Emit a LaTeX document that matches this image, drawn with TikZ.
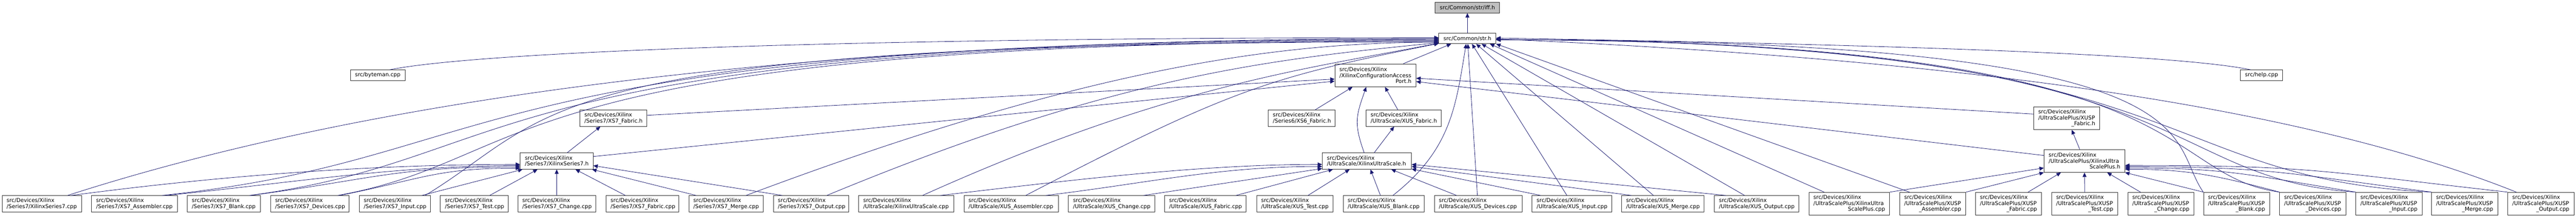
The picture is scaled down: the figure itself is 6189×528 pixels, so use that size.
\documentclass[tikz,border=0pt]{standalone}
\usepackage{fontspec}
\newfontfamily\dotfont{DejaVu Sans}
\usetikzlibrary{arrows.meta, calc}

\definecolor{edgeblue}{HTML}{191970}
\definecolor{rootgray}{HTML}{BFBFBF}
\newcommand\lastline[1]{\hspace*{\fill}#1\hspace*{\fill}}

\tikzset{
  filebox/.style={draw=black!80, fill=white, line width=0.75pt, inner xsep=8.25pt, inner ysep=0pt,
    font=\dotfont\fontsize{9.75}{10.8}\selectfont, align=left,
    execute at begin node={\hyphenpenalty=10000\exhyphenpenalty=10000}},
  wd/.code={\pgfmathsetlengthmacro\filew{#1*0.75pt}\pgfmathsetlengthmacro\filet{(#1-22)*0.75pt}%
    \tikzset{minimum width=\filew, text width=\filet}},
  oneline/.style={minimum height=18.75pt, align=center},
  h2/.style={minimum height=29.25pt},
  h3/.style={minimum height=41.25pt},
  dep/.style={draw=edgeblue, line width=0.75pt, -{Triangle[length=8pt,width=7pt]}},
}

\begin{document}
\begin{tikzpicture}[x=0.75pt, y=0.75pt]
  \useasboundingbox[fill=white] (0,0) rectangle (6189,528);

  \node[filebox, oneline, fill=rootgray, minimum width=116.25pt] (iffh) at (3525.5,509.5) {src/Common/str/iff.h};
  \node[filebox, oneline, minimum width=102.75pt] (strh) at (3525.5,435.5) {src/Common/str.h};
  \node[filebox, oneline, minimum width=98.25pt] (byteman) at (907.5,347.5) {src/byteman.cpp};
  \node[filebox, oneline, minimum width=75.75pt] (helpcpp) at (5433.5,347.5) {src/help.cpp};
  \node[filebox, h3, wd=195] (xcap) at (3304.5,347) {src/Devices/Xilinx\\/XilinxConfigurationAccess\\\lastline{Port.h}};

  \node[filebox, h2, wd=161] (s7fabh) at (1473.5,244) {src/Devices/Xilinx\\/Series7/XS7\_Fabric.h};
  \node[filebox, h2, wd=160] (s6fabh) at (3127,244) {src/Devices/Xilinx\\/Series6/XS6\_Fabric.h};
  \node[filebox, h2, wd=181] (usfabh) at (3372.5,244) {src/Devices/Xilinx\\/UltraScale/XUS\_Fabric.h};
  \node[filebox, h3, wd=159] (uspfabh) at (4965.5,244) {src/Devices/Xilinx\\/UltraScalePlus/XUSP\\\lastline{\_Fabric.h}};
  \node[filebox, h2, wd=175] (s7h) at (1337.5,141) {src/Devices/Xilinx\\/Series7/XilinxSeries7.h};
  \node[filebox, h2, wd=214] (ush) at (3284,141) {src/Devices/Xilinx\\/UltraScale/XilinxUltraScale.h};
  \node[filebox, h3, wd=194] (usph) at (5008,141.5) {src/Devices/Xilinx\\/UltraScalePlus/XilinxUltra\\\lastline{ScalePlus.h}};

  \node[filebox, h2, wd=191] (s7cpp) at (100.5,38.5) {src/Devices/Xilinx\\/Series7/XilinxSeries7.cpp};
  \node[filebox, h2, wd=206] (s7asm) at (323,38.5) {src/Devices/Xilinx\\/Series7/XS7\_Assembler.cpp};
  \node[filebox, h2, wd=175] (s7blank) at (537.5,38.5) {src/Devices/Xilinx\\/Series7/XS7\_Blank.cpp};
  \node[filebox, h2, wd=189] (s7dev) at (744.5,38.5) {src/Devices/Xilinx\\/Series7/XS7\_Devices.cpp};
  \node[filebox, h2, wd=171] (s7in) at (948.5,38.5) {src/Devices/Xilinx\\/Series7/XS7\_Input.cpp};
  \node[filebox, h2, wd=163] (s7test) at (1139.5,38.5) {src/Devices/Xilinx\\/Series7/XS7\_Test.cpp};
  \node[filebox, h2, wd=187] (s7chg) at (1337.5,38.5) {src/Devices/Xilinx\\/Series7/XS7\_Change.cpp};
  \node[filebox, h2, wd=175] (s7fab) at (1543.5,38.5) {src/Devices/Xilinx\\/Series7/XS7\_Fabric.cpp};
  \node[filebox, h2, wd=179] (s7merge) at (1744.5,38.5) {src/Devices/Xilinx\\/Series7/XS7\_Merge.cpp};
  \node[filebox, h2, wd=181] (s7out) at (1948.5,38.5) {src/Devices/Xilinx\\/Series7/XS7\_Output.cpp};
  \node[filebox, h2, wd=229] (uscpp) at (2177.5,38.5) {src/Devices/Xilinx\\/UltraScale/XilinxUltraScale.cpp};
  \node[filebox, h2, wd=227] (usasm) at (2429.5,38.5) {src/Devices/Xilinx\\/UltraScale/XUS\_Assembler.cpp};
  \node[filebox, h2, wd=207] (uschg) at (2670.5,38.5) {src/Devices/Xilinx\\/UltraScale/XUS\_Change.cpp};
  \node[filebox, h2, wd=196] (usfab) at (2896,38.5) {src/Devices/Xilinx\\/UltraScale/XUS\_Fabric.cpp};
  \node[filebox, h2, wd=184] (ustest) at (3111,38.5) {src/Devices/Xilinx\\/UltraScale/XUS\_Test.cpp};
  \node[filebox, h2, wd=195] (usblank) at (3324.5,38.5) {src/Devices/Xilinx\\/UltraScale/XUS\_Blank.cpp};
  \node[filebox, h2, wd=211] (usdev) at (3551.5,38.5) {src/Devices/Xilinx\\/UltraScale/XUS\_Devices.cpp};
  \node[filebox, h2, wd=191] (usin) at (3776.5,38.5) {src/Devices/Xilinx\\/UltraScale/XUS\_Input.cpp};
  \node[filebox, h2, wd=198] (usmerge) at (3995,38.5) {src/Devices/Xilinx\\/UltraScale/XUS\_Merge.cpp};
  \node[filebox, h2, wd=203] (usout) at (4220.5,38.5) {src/Devices/Xilinx\\/UltraScale/XUS\_Output.cpp};
  \node[filebox, h3, wd=194] (uspcpp) at (4443,38.5) {src/Devices/Xilinx\\/UltraScalePlus/XilinxUltra\\\lastline{ScalePlus.cpp}};
  \node[filebox, h3, wd=159] (uspasm) at (4643.5,38.5) {src/Devices/Xilinx\\/UltraScalePlus/XUSP\\\lastline{\_Assembler.cpp}};
  \node[filebox, h3, wd=159] (uspfab) at (4825.5,38.5) {src/Devices/Xilinx\\/UltraScalePlus/XUSP\\\lastline{\_Fabric.cpp}};
  \node[filebox, h3, wd=159] (usptest) at (5008.5,38.5) {src/Devices/Xilinx\\/UltraScalePlus/XUSP\\\lastline{\_Test.cpp}};
  \node[filebox, h3, wd=159] (uspchg) at (5191.5,38.5) {src/Devices/Xilinx\\/UltraScalePlus/XUSP\\\lastline{\_Change.cpp}};
  \node[filebox, h3, wd=159] (uspblank) at (5373.5,38.5) {src/Devices/Xilinx\\/UltraScalePlus/XUSP\\\lastline{\_Blank.cpp}};
  \node[filebox, h3, wd=159] (uspdev) at (5556.5,38.5) {src/Devices/Xilinx\\/UltraScalePlus/XUSP\\\lastline{\_Devices.cpp}};
  \node[filebox, h3, wd=159] (uspin) at (5739.5,38.5) {src/Devices/Xilinx\\/UltraScalePlus/XUSP\\\lastline{\_Input.cpp}};
  \node[filebox, h3, wd=159] (uspmerge) at (5921.5,38.5) {src/Devices/Xilinx\\/UltraScalePlus/XUSP\\\lastline{\_Merge.cpp}};
  \node[filebox, h3, wd=159] (uspout) at (6104.5,38.5) {src/Devices/Xilinx\\/UltraScalePlus/XUSP\\\lastline{\_Output.cpp}};

  \draw[dep] (strh) -- (iffh);
  \draw[dep] ($(byteman.north west)+(95,0)$) .. controls +(200,40) and +(-1500,0) .. ($(strh.south west)+(0,15)$);
  \draw[dep] ($(helpcpp.north west)+(25,0)$) .. controls +(-150,30) and +(1200,-20) .. ($(strh.south east)+(0,14)$);

  % Series7
  \draw[dep] ($(s7cpp.north west)+(158,0)$) .. controls +(900,290) and +(-1200,0) .. ($(strh.south west)+(0,13)$);
  \draw[dep] ($(s7asm.north west)+(170,0)$) .. controls +(860,90) and +(-2400,0) .. ($(strh.south west)+(0,11)$);
  \draw[dep] ($(s7blank.north west)+(150,0)$) .. controls +(680,90) and +(-2350,0) .. ($(strh.south west)+(0,9)$);
  \draw[dep] ($(s7dev.north west)+(162,0)$) .. controls +(500,90) and +(-2300,0) .. ($(strh.south west)+(0,7)$);
  \draw[dep] ($(s7in.north west)+(159,0)$) .. controls +(330,200) and +(-2200,0) .. ($(strh.south west)+(0,5)$);
  \draw[dep] ($(s7merge.north west)+(138,0)$) .. controls +(800,300) and +(-400,0) .. ($(strh.south west)+(0,4)$);
  \draw[dep] ($(s7out.north west)+(129,0)$) .. controls +(700,290) and +(-400,-40) .. ($(strh.south west)+(0,3)$);
  \draw[dep] ($(s7cpp.north west)+(167,0)$) .. controls +(300,40) and +(-400,0) .. ($(s7h.south west)+(0,12)$);
  \draw[dep] ($(s7asm.north west)+(180,0)$) .. controls +(300,30) and +(-300,0) .. ($(s7h.south west)+(0,9)$);
  \draw[dep] ($(s7blank.north west)+(153,0)$) .. controls +(300,40) and +(-300,0) .. ($(s7h.south west)+(0,6)$);
  \draw[dep] ($(s7dev.north west)+(167,0)$) .. controls +(200,40) and +(-200,0) .. ($(s7h.south west)+(0,3)$);
  \draw[dep] ($(s7in.north west)+(151,0)$) -- ($(s7h.south west)+(6,0)$);
  \draw[dep] ($(s7test.north west)+(119,0)$) -- ($(s7h.south west)+(42,0)$);
  \draw[dep] (s7chg) -- (s7h);
  \draw[dep] ($(s7fab.north west)+(47,0)$) -- ($(s7h.south west)+(133,0)$);
  \draw[dep] ($(s7merge.north west)+(18,0)$) -- ($(s7h.south east)+(-3,0)$);
  \draw[dep] ($(s7out.north west)+(22,0)$) -- ($(s7h.south east)+(0,9)$);
  \draw[dep] ($(s7h.north west)+(113,0)$) -- ($(s7fabh.south west)+(50,0)$);
  \draw[dep] ($(s7fabh.south east)+(0,27)$) -- ($(xcap.south west)+(0,19)$);
  \draw[dep] ($(s7h.south east)+(0,31)$) -- ($(xcap.south west)+(0,14)$);

  % UltraScale
  \draw[dep] ($(uscpp.north west)+(154,0)$) .. controls +(600,270) and +(-300,-60) .. ($(strh.south west)+(0,2)$);
  \draw[dep] ($(uscpp.north west)+(197,0)$) .. controls +(300,35) and +(-300,0) .. ($(ush.south west)+(0,12)$);
  \draw[dep] ($(usasm.north west)+(149,0)$) .. controls +(500,260) and +(-400,-80) .. ($(strh.south west)+(0,1)$);
  \draw[dep] ($(usasm.north west)+(197,0)$) .. controls +(250,30) and +(-250,0) .. ($(ush.south west)+(0,7)$);
  \draw[dep] ($(uschg.north west)+(181,0)$) -- ($(ush.south west)+(0,2)$);
  \draw[dep] ($(usfab.north west)+(172,0)$) -- ($(ush.south west)+(26,0)$);
  \draw[dep] ($(ustest.north west)+(124,0)$) -- ($(ush.south west)+(66,0)$);
  \draw[dep] ($(usblank.north west)+(90,0)$) -- ($(ush.south west)+(116,0)$);
  \draw[dep] ($(usblank.north west)+(120,0)$) .. controls +(140,110) and +(-25,-150) .. ($(strh.south west)+(66,0)$);
  \draw[dep] ($(usdev.north west)+(54,0)$) -- ($(ush.south west)+(166,0)$);
  \draw[dep] ($(usdev.north west)+(104,0)$) -- ($(strh.south west)+(70,0)$);
  \draw[dep] ($(usin.north west)+(21,0)$) -- ($(ush.south east)+(0,1)$);
  \draw[dep] ($(usin.north west)+(84,0)$) -- ($(strh.south west)+(80,0)$);
  \draw[dep] ($(usmerge.north west)+(24,0)$) -- ($(ush.south east)+(0,7)$);
  \draw[dep] ($(usmerge.north west)+(77,0)$) -- ($(strh.south west)+(90,0)$);
  \draw[dep] ($(usout.north west)+(28,0)$) -- ($(ush.south east)+(0,12)$);
  \draw[dep] ($(usout.north west)+(73,0)$) -- ($(strh.south west)+(103,0)$);
  \draw[dep] ($(ush.north west)+(101,0)$) .. controls +(-25,70) and +(-25,-70) .. ($(xcap.south west)+(76,0)$);
  \draw[dep] ($(ush.north west)+(125,0)$) -- ($(usfabh.south west)+(68,0)$);
  \draw[dep] ($(s6fabh.north west)+(113,0)$) -- ($(xcap.south west)+(43,0)$);
  \draw[dep] ($(usfabh.north west)+(77,0)$) -- ($(xcap.south west)+(121,0)$);
  \draw[dep] ($(xcap.north west)+(165,0)$) -- ($(strh.south west)+(30,0)$);

  % UltraScalePlus
  \draw[dep] ($(uspcpp.north west)+(37,0)$) -- ($(strh.south west)+(123,0)$);
  \draw[dep] (uspcpp.north east) -- ($(usph.south west)+(0,11)$);
  \draw[dep] ($(uspasm.north west)+(24,0)$) -- (strh.south east);
  \draw[dep] (uspasm.north east) -- (usph.south west);
  \draw[dep] ($(uspfab.north west)+(127,0)$) -- ($(usph.south west)+(41,0)$);
  \draw[dep] (usptest) -- (usph);
  \draw[dep] ($(uspchg.north west)+(31,0)$) -- ($(usph.south west)+(152,0)$);
  \draw[dep] (uspblank.north west) -- (usph.south east);
  \draw[dep] (uspblank.north west) .. controls +(-94,134) and +(1756,0) .. ($(strh.south east)+(0,10)$);
  \draw[dep] (uspdev.north west) .. controls +(-150,40) and +(150,0) .. ($(usph.south east)+(0,8)$);
  \draw[dep] (uspdev.north west) .. controls +(-307,44) and +(1726,0) .. ($(strh.south east)+(0,10)$);
  \draw[dep] (uspin.north west) .. controls +(-250,40) and +(250,0) .. ($(usph.south east)+(0,11)$);
  \draw[dep] (uspin.north west) .. controls +(-500,34) and +(1716,0) .. ($(strh.south east)+(0,10)$);
  \draw[dep] (uspmerge.north west) .. controls +(-350,45) and +(350,0) .. ($(usph.south east)+(0,14)$);
  \draw[dep] (uspmerge.north west) .. controls +(-692,34) and +(1706,0) .. ($(strh.south east)+(0,10)$);
  \draw[dep] (uspout.north west) .. controls +(-450,50) and +(450,0) .. ($(usph.south east)+(0,17)$);
  \draw[dep] ($(uspout.north west)+(21,0)$) .. controls +(-600,240) and +(900,-40) .. ($(strh.south east)+(0,12)$);
  \draw[dep] ($(usph.north west)+(86,0)$) -- ($(uspfabh.south west)+(92,0)$);
  \draw[dep] ($(uspfabh.south west)+(0,38)$) -- ($(xcap.south east)+(0,21)$);
  \draw[dep] ($(usph.south west)+(0,41)$) -- ($(xcap.south east)+(0,13)$);
\end{tikzpicture}
\end{document}
